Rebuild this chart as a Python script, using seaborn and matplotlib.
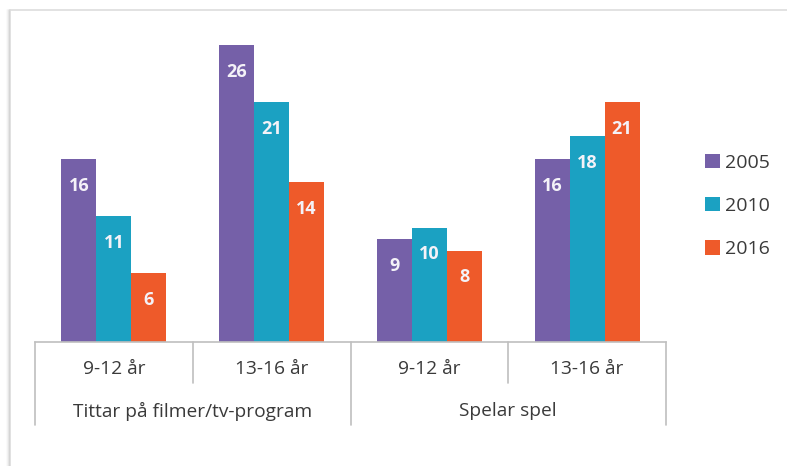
import matplotlib
matplotlib.use("Agg")
import matplotlib.pyplot as plt
import seaborn as sns
import pandas as pd

# Data
activities = ["Tittar på filmer/tv-program", "Spelar spel"]
age_groups = ["9-12 år", "13-16 år"]
years = ["2005", "2010", "2016"]
values_2005 = [16, 26, 9, 16]
values_2010 = [11, 21, 10, 18]
values_2016 = [6, 14, 8, 21]

colors = ["#7560A8", "#1BA1C2", "#EE5A2A"]

slots = [f"{a}|{g}" for a in activities for g in age_groups]
rows = []
for year, vals in zip(years, [values_2005, values_2010, values_2016]):
    for slot, v in zip(slots, vals):
        rows.append({"slot": slot, "year": year, "value": v})
df = pd.DataFrame(rows)

sns.set_theme(style="white")
plt.rcParams["font.family"] = ["Open Sans", "DejaVu Sans"]

W, H = 787, 466
fig = plt.figure(figsize=(W / 100, H / 100), dpi=100)
ax_left, ax_right, ax_top, ax_bottom = 35, 666, 20, 342
ax = fig.add_axes([ax_left / W, 1 - ax_bottom / H,
                   (ax_right - ax_left) / W, (ax_bottom - ax_top) / H])

sns.barplot(data=df, x="slot", y="value", hue="year", order=slots,
            hue_order=years, palette=colors, width=0.665, saturation=1,
            linewidth=0, ax=ax, legend=True)

ax.set_xlim(-0.5, 3.5)
ax.set_ylim(0, 28.2)
ax.set_xlabel("")
ax.set_ylabel("")
ax.set_xticks([])
ax.set_yticks([])
for s in ["top", "right", "left"]:
    ax.spines[s].set_visible(False)
ax.spines["bottom"].set_color("#BFBFBF")
ax.spines["bottom"].set_linewidth(1.2)

# Value labels inside the bars
for container, vals in zip(ax.containers, [values_2005, values_2010, values_2016]):
    for patch, v in zip(container.patches, vals):
        ax.annotate(str(v), (patch.get_x() + patch.get_width() / 2, patch.get_height()),
                    xytext=(0, -19), textcoords="offset points", ha="center",
                    va="center", color="#F4F2F8", fontsize=13, fontweight="bold")

# Two-level category axis
axh = ax_bottom - ax_top
def yfrac(py):
    return (ax_bottom - py) / axh

tr = ax.get_xaxis_transform()
sep_color = "#BFBFBF"
for xb, long in zip([-0.5, 0.5, 1.5, 2.5, 3.5], [True, False, True, False, True]):
    yend = yfrac(425) if long else yfrac(383)
    ax.plot([xb, xb], [0, yend], color=sep_color, lw=1.2, transform=tr, clip_on=False)

for i, slot in enumerate(slots):
    ax.text(i, yfrac(369), slot.split("|")[1], transform=tr, ha="center",
            va="center", fontsize=13.8, color="#3A3A3A")
for j, act in enumerate(activities):
    ax.text(2 * j + 0.5, yfrac(411), act, transform=tr, ha="center",
            va="center", fontsize=13.8, color="#3A3A3A")

# Legend
handles, labels = ax.get_legend_handles_labels()
ax.legend(handles, labels, loc="center left", bbox_to_anchor=(705 / W, 1 - 206 / H),
          bbox_transform=fig.transFigure, frameon=False, fontsize=14,
          handlelength=0.75, handleheight=0.75, handletextpad=0.3,
          labelspacing=1.3, borderpad=0, borderaxespad=0, labelcolor="#3A3A3A")

# Chart frame with soft shadow along the left edge
for k, a in enumerate([0.35, 0.2, 0.1, 0.05]):
    fig.add_artist(plt.Line2D([(10 - k) / W] * 2, [0, 1 - 10 / H],
                              transform=fig.transFigure, color="#9A9A9A",
                              alpha=a, lw=1.2))
fig.add_artist(plt.Line2D([10 / W, 1], [1 - 10 / H] * 2, transform=fig.transFigure,
                          color="#DDDDDD", lw=1.2))

fig.savefig("out.png", dpi=100)
